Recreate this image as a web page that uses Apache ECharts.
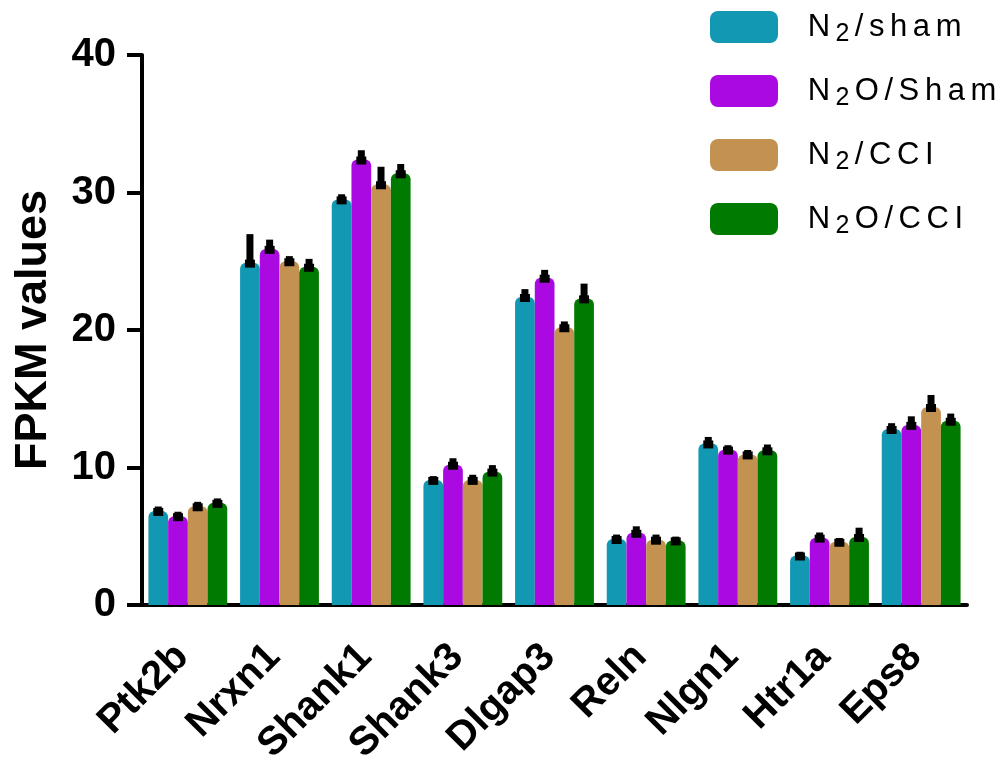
<!DOCTYPE html>
<html>
<head>
<meta charset="utf-8">
<script src="https://cdn.jsdelivr.net/npm/echarts@6/dist/echarts.min.js"></script>
<style>
html,body{margin:0;padding:0;background:#fff;}
#chart{width:1003px;height:758px;}
</style>
</head>
<body>
<div id="chart"></div>
<script>
const categories = ['Ptk2b','Nrxn1','Shank1','Shank3','Dlgap3','Reln','Nlgn1','Htr1a','Eps8'];
const seriesNames = ['N2/sham','N2O/Sham','N2/CCI','N2O/CCI'];
const colors = ['#1298B2','#AA0AE1','#C49250','#007A00'];
const n2Sham   = [6.84, 24.9, 29.5, 9.1, 22.4, 4.8, 11.75, 3.6, 12.8];
const n2oSham  = [6.46, 25.9, 32.4, 10.2, 23.8, 5.25, 11.3, 4.9, 13.1];
const n2Cci    = [7.18, 25.0, 30.6, 9.1, 20.2, 4.75, 10.95, 4.6, 14.4];
const n2oCci   = [7.43, 24.6, 31.4, 9.7, 22.3, 4.7, 11.25, 4.95, 13.4];
const n2ShamErr  = [0.25, 2.0, 0.3, 0.2, 0.5, 0.25, 0.4, 0.2, 0.35];
const n2oShamErr = [0.25, 0.6, 0.6, 0.4, 0.5, 0.4, 0.25, 0.3, 0.55];
const n2CciErr   = [0.25, 0.3, 1.2, 0.3, 0.35, 0.3, 0.25, 0.2, 0.8];
const n2oCciErr  = [0.25, 0.5, 0.6, 0.4, 1.0, 0.2, 0.35, 0.6, 0.45];
const yTicks = [0, 10, 20, 30, 40];

const values = [n2Sham, n2oSham, n2Cci, n2oCci];
const errors = [n2ShamErr, n2oShamErr, n2CciErr, n2oCciErr];
const catGap = 0.14;
const FONT = 'Liberation Sans, Arial, sans-serif';

const barSeries = seriesNames.map((name, i) => ({
  name: name,
  type: 'bar',
  data: values[i],
  barGap: '0%',
  barCategoryGap: (catGap*100) + '%',
  itemStyle: {color: colors[i], borderRadius: [6,6,0,0]},
  z: 2
}));

const errSeries = seriesNames.map((name, i) => ({
  type: 'custom',
  name: name + ' err',
  data: values[i].map((v, k) => [k, v, errors[i][k]]),
  z: 5,
  silent: true,
  renderItem: function (params, api) {
    const k = api.value(0), v = api.value(1), e = api.value(2);
    const band = api.size([1, 0])[0];
    const bw = band * (1 - catGap) / 4;
    const base = api.coord([k, v]);
    const top = api.coord([k, v + e]);
    const cx = base[0] + (i - 1.5) * bw;
    return {
      type: 'group',
      children: [
        {type: 'rect', shape: {x: cx - 3.5, y: top[1] - 1, width: 7, height: base[1] - top[1] + 5}, style: {fill: '#000'}},
        {type: 'rect', shape: {x: cx - 5, y: base[1] - 3, width: 10, height: 8}, style: {fill: '#000'}}
      ]
    };
  }
}));

function legendFmt(name) {
  const rest = name.slice(2);
  let s = '{c|N}{sub|2}';
  for (const ch of rest) s += '{c|' + ch + '}';
  return s;
}

const chart = echarts.init(document.getElementById('chart'), null, {renderer: 'canvas'});
chart.setOption({
  animation: false,
  backgroundColor: '#fff',
  grid: {left: 142, right: 36, top: 55, bottom: 153, containLabel: false, outerBoundsMode: 'none'},
  legend: {
    orient: 'vertical',
    left: 710,
    top: 11,
    padding: 0,
    itemWidth: 68,
    itemHeight: 32,
    itemGap: 28,
    icon: 'roundRect',
    data: seriesNames,
    formatter: legendFmt,
    textStyle: {
      fontFamily: FONT,
      fontSize: 31,
      color: '#000',
      padding: [0, 0, 0, 22],
      rich: {
        c: {fontSize: 31, color: '#000', padding: [0, 2.8, 0, 2.8], fontFamily: FONT},
        sub: {fontSize: 25, color: '#000', padding: [15, 2.5, 0, 2.5], fontFamily: FONT}
      }
    }
  },
  xAxis: {
    type: 'category',
    data: categories,
    axisLine: {lineStyle: {color: '#000', width: 4}},
    axisTick: {alignWithLabel: true, length: 15, lineStyle: {color: '#000', width: 4}},
    axisLabel: {
      rotate: 45,
      margin: 40,
      interval: 0,
      color: '#000',
      fontSize: 40,
      fontWeight: 'bold',
      fontFamily: FONT,
      padding: [0, 8, 0, 0]
    }
  },
  yAxis: {
    type: 'value',
    min: yTicks[0],
    max: yTicks[yTicks.length - 1],
    interval: 10,
    name: 'FPKM values',
    nameLocation: 'middle',
    nameGap: 86,
    nameRotate: 90,
    nameTextStyle: {fontSize: 45, fontWeight: 'bold', color: '#000', fontFamily: FONT},
    axisLine: {show: true, lineStyle: {color: '#000', width: 4}},
    axisTick: {show: true, length: 15, lineStyle: {color: '#000', width: 4}},
    splitLine: {show: false},
    axisLabel: {
      margin: 26,
      color: '#000',
      fontSize: 40,
      fontWeight: 'bold',
      fontFamily: FONT
    }
  },
  series: barSeries.concat(errSeries)
});
</script>
</body>
</html>
